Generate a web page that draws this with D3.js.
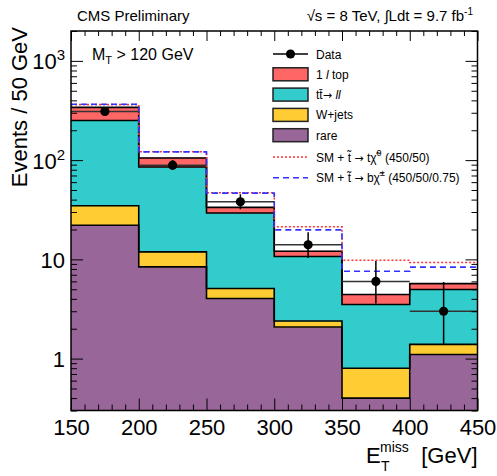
<!DOCTYPE html>
<html>
<head>
<meta charset="utf-8">
<script src="https://cdn.jsdelivr.net/npm/d3@7"></script>
<style>
  body { margin: 0; background: #fff; }
  svg { font-family: "Liberation Sans", Arial, sans-serif; }
  .arrow { font-family: "DejaVu Sans", sans-serif; font-size: 11px; }
</style>
</head>
<body>
<svg id="chart" width="497" height="476"></svg>
<script>
// bin edges in MET [GeV]
var binEdges = [150, 200, 250, 300, 350, 400, 450];

// stacked backgrounds, bottom to top
var rare   = [22.1, 8.4, 4.03, 2.08, 0.40, 1.10];
var wjets  = [12.6, 3.5, 1.06, 0.31, 0.40, 0.29];
var ttbar  = [216, 73.3, 24.2, 8.3, 2.71, 3.58];
var onelep = [89, 20, 4.1, 1.4, 0.92, 0.72];

// SM + signal totals
var sigT = [362, 121.5, 46.9, 21.3, 9.8, 9.3];
var sigB = [366, 121, 46.5, 19.8, 7.6, 8.35];

// observed data with asymmetric errors
var dataVals = [309, 89, 38, 14, 6, 3];
var dataErrLo = [17.6, 9.4, 6.1, 3.7, 2.4, 1.6];
var dataErrHi = [18.6, 10.5, 7.2, 4.8, 3.6, 2.9];

var xTicks = [150, 200, 250, 300, 350, 400, 450];
var yTicks = [1, 10, 100, 1000];

var svg = d3.select("#chart");

// frame (note: "top" is taken by window.top)
var fL = 71, fR = 477.5, fT = 31, fB = 410.5;

var x = d3.scaleLinear().domain([150, 450]).range([fL, fR]);
var y = d3.scaleLog().domain([0.3, 2000]).range([fB, fT]);
var ymin = y.domain()[0];

svg.append("clipPath").attr("id", "frame")
  .append("rect")
  .attr("x", fL).attr("y", fT)
  .attr("width", fR - fL).attr("height", fB - fT);

var plot = svg.append("g").attr("clip-path", "url(#frame)");

// build stack table
var bins = d3.range(dataVals.length);
var table = bins.map(function(i) {
  return { i: i, rare: rare[i], wjets: wjets[i], ttbar: ttbar[i], onelep: onelep[i] };
});
var keys = ["rare", "wjets", "ttbar", "onelep"];
var colors = { rare: "#996699", wjets: "#ffcc33", ttbar: "#33cccc", onelep: "#ff6666" };
var series = d3.stack().keys(keys)(table);

series.forEach(function(s) {
  plot.append("g")
    .selectAll("rect")
    .data(s)
    .join("rect")
    .attr("x", function(d) { return x(binEdges[d.data.i]); })
    .attr("width", function(d) { return x(binEdges[d.data.i + 1]) - x(binEdges[d.data.i]); })
    .attr("y", function(d) { return y(d[1]); })
    .attr("height", function(d) { return y(Math.max(d[0], ymin)) - y(d[1]); })
    .attr("fill", colors[s.key])
    .attr("stroke", colors[s.key])
    .attr("stroke-width", 0.8);
});

// step outline through a list of bin values
var step = d3.line()
  .x(function(d) { return x(d[0]); })
  .y(function(d) { return y(Math.max(d[1], ymin)); })
  .curve(d3.curveStepAfter);

function stepPoints(vals) {
  var pts = vals.map(function(v, i) { return [binEdges[i], v]; });
  pts.push([binEdges[vals.length], vals[vals.length - 1]]);
  return pts;
}

series.forEach(function(s) {
  plot.append("path")
    .attr("d", step(stepPoints(s.map(function(d) { return d[1]; }))))
    .attr("fill", "none")
    .attr("stroke", "#000")
    .attr("stroke-width", 1.6);
});

plot.append("path")
  .attr("d", step(stepPoints(sigT)))
  .attr("fill", "none")
  .attr("stroke", "#ff3333")
  .attr("stroke-width", 1.6)
  .attr("stroke-dasharray", "2,2");

plot.append("path")
  .attr("d", step(stepPoints(sigB)))
  .attr("fill", "none")
  .attr("stroke", "#3333ff")
  .attr("stroke-width", 1.6)
  .attr("stroke-dasharray", "6,4");

// data points
var dg = plot.append("g");
bins.forEach(function(i) {
  var cx = (x(binEdges[i]) + x(binEdges[i + 1])) / 2;
  dg.append("line")
    .attr("x1", x(binEdges[i])).attr("x2", x(binEdges[i + 1]))
    .attr("y1", y(dataVals[i])).attr("y2", y(dataVals[i]))
    .attr("stroke", "#333").attr("stroke-width", 1.5);
  dg.append("line")
    .attr("x1", cx).attr("x2", cx)
    .attr("y1", y(dataVals[i] - dataErrLo[i])).attr("y2", y(dataVals[i] + dataErrHi[i]))
    .attr("stroke", "#000").attr("stroke-width", 1.5);
  dg.append("circle")
    .attr("cx", cx).attr("cy", y(dataVals[i]))
    .attr("r", 4.6).attr("fill", "#000");
});

// axes: ROOT style ticks inside on all four sides
var xMinor = d3.range(150, 451, 10).filter(function(v) { return v % 50 != 0; });
var yMinor = [];
[0.1, 1, 10, 100, 1000].forEach(function(dec) {
  for (var k = 2; k <= 9; k++) {
    var v = dec * k;
    if (v >= 0.3 && v <= 2000) yMinor.push(v);
  }
});

function styleAxis(g) {
  g.select(".domain").remove();
  g.selectAll("line").attr("stroke", "#000").attr("stroke-width", 1);
  g.attr("font-family", null).attr("font-size", null);
}

svg.append("g").attr("transform", "translate(0," + fB + ")")
  .call(d3.axisBottom(x).tickValues(xTicks).tickSize(-12).tickSizeOuter(0).tickPadding(9)
    .tickFormat(d3.format("d")))
  .call(styleAxis)
  .selectAll("text").attr("font-size", 22).attr("fill", "#000");
svg.append("g").attr("transform", "translate(0," + fB + ")")
  .call(d3.axisBottom(x).tickValues(xMinor).tickSize(-6).tickSizeOuter(0).tickFormat(""))
  .call(styleAxis);
svg.append("g").attr("transform", "translate(0," + fT + ")")
  .call(d3.axisTop(x).tickValues(xTicks).tickSize(-10).tickSizeOuter(0).tickFormat(""))
  .call(styleAxis);
svg.append("g").attr("transform", "translate(0," + fT + ")")
  .call(d3.axisTop(x).tickValues(xMinor).tickSize(-5).tickSizeOuter(0).tickFormat(""))
  .call(styleAxis);

var yAxisG = svg.append("g").attr("transform", "translate(" + fL + ",0)")
  .call(d3.axisLeft(y).tickValues(yTicks).tickSize(-12).tickSizeOuter(0).tickPadding(6)
    .tickFormat(function() { return ""; }))
  .call(styleAxis);
yAxisG.selectAll(".tick text")
  .attr("font-size", 22).attr("fill", "#000").attr("dy", 8)
  .each(function(d) {
    var t = d3.select(this);
    if (d < 100) {
      t.text(d);
    } else {
      t.append("tspan").text("10");
      t.append("tspan").attr("font-size", 15).attr("dy", -9).text(Math.round(Math.log10(d)));
    }
  });
svg.append("g").attr("transform", "translate(" + fL + ",0)")
  .call(d3.axisLeft(y).tickValues(yMinor).tickSize(-6).tickSizeOuter(0).tickFormat(""))
  .call(styleAxis);
svg.append("g").attr("transform", "translate(" + fR + ",0)")
  .call(d3.axisRight(y).tickValues(yTicks).tickSize(-12).tickSizeOuter(0).tickFormat(""))
  .call(styleAxis);
svg.append("g").attr("transform", "translate(" + fR + ",0)")
  .call(d3.axisRight(y).tickValues(yMinor).tickSize(-6).tickSizeOuter(0).tickFormat(""))
  .call(styleAxis);

svg.append("rect")
  .attr("x", fL).attr("y", fT)
  .attr("width", fR - fL).attr("height", fB - fT)
  .attr("fill", "none").attr("stroke", "#000").attr("stroke-width", 1.5);

// titles
svg.append("text")
  .attr("transform", "translate(27,27) rotate(-90)")
  .attr("text-anchor", "end")
  .attr("font-size", 22)
  .text("Events / 50 GeV");

svg.append("text").attr("x", 366).attr("y", 463).attr("font-size", 22).text("E");
svg.append("text").attr("x", 380).attr("y", 452).attr("font-size", 14).text("miss");
svg.append("text").attr("x", 381).attr("y", 471).attr("font-size", 14).text("T");
svg.append("text").attr("x", fR).attr("y", 463).attr("text-anchor", "end")
  .attr("font-size", 22).text("[GeV]");

svg.append("text").attr("x", 77).attr("y", 21).attr("font-size", 15).text("CMS Preliminary");
var lumi = svg.append("text").attr("x", 473).attr("y", 21).attr("text-anchor", "end").attr("font-size", 15);
lumi.append("tspan").text("\u221As = 8 TeV, \u222BLdt = 9.7 fb");
lumi.append("tspan").attr("font-size", 10).attr("dy", -6).text("-1");

var mt = svg.append("text").attr("x", 92).attr("y", 60).attr("font-size", 16);
mt.append("tspan").text("M");
mt.append("tspan").attr("font-size", 11).attr("dy", 4).text("T");
mt.append("tspan").attr("dy", -4).text(" > 120 GeV");

// legend
var legend = svg.append("g").attr("font-size", 12);
var ly0 = 54, lstep = 20.3, lx = 273, lw = 35, tx = 316;

legend.append("line")
  .attr("x1", lx).attr("x2", lx + lw).attr("y1", ly0).attr("y2", ly0)
  .attr("stroke", "#000").attr("stroke-width", 1.5);
legend.append("circle").attr("cx", lx + lw / 2).attr("cy", ly0).attr("r", 4.6).attr("fill", "#000");
legend.append("text").attr("x", tx).attr("y", ly0 + 4.5).text("Data");

var boxKeys = ["onelep", "ttbar", "wjets", "rare"];
boxKeys.forEach(function(k, j) {
  var cy = ly0 + lstep * (j + 1);
  legend.append("rect")
    .attr("x", lx).attr("y", cy - 6.5).attr("width", lw).attr("height", 13)
    .attr("fill", colors[k]).attr("stroke", "#222").attr("stroke-width", 1.5);
  var t = legend.append("text").attr("x", tx).attr("y", cy + 4.5);
  if (k == "onelep") {
    t.append("tspan").text("1 ");
    t.append("tspan").attr("font-style", "italic").text("l");
    t.append("tspan").text(" top");
  } else if (k == "ttbar") {
    t.append("tspan").text("tt\u0304");
    t.append("tspan").attr("class", "arrow").text("\u2192 ");
    t.append("tspan").attr("font-style", "italic").text("ll");
  } else if (k == "wjets") {
    t.text("W+jets");
  } else {
    t.text("rare");
  }
});

var sigRows = [
  { color: "#ff3333", dash: "2,2", q: "t", sup: "0", tail: " (450/50)" },
  { color: "#3333ff", dash: "6,4", q: "b", sup: "\u00B1", tail: " (450/50/0.75)" }
];
sigRows.forEach(function(r, j) {
  var cy = ly0 + lstep * 5 + 1.5 + j * 20.7;
  legend.append("line")
    .attr("x1", lx).attr("x2", lx + lw).attr("y1", cy).attr("y2", cy)
    .attr("stroke", r.color).attr("stroke-width", 1.6).attr("stroke-dasharray", r.dash);
  var t = legend.append("text").attr("x", tx).attr("y", cy + 4.5);
  t.append("tspan").text("SM + t\u0303 ");
  t.append("tspan").attr("class", "arrow").text("\u2192");
  t.append("tspan").text(" " + r.q + "\u03C7\u0303");
  t.append("tspan").attr("font-size", 9).attr("dy", -6).text(r.sup);
  t.append("tspan").attr("dy", 6).text(r.tail);
});
</script>
</body>
</html>
